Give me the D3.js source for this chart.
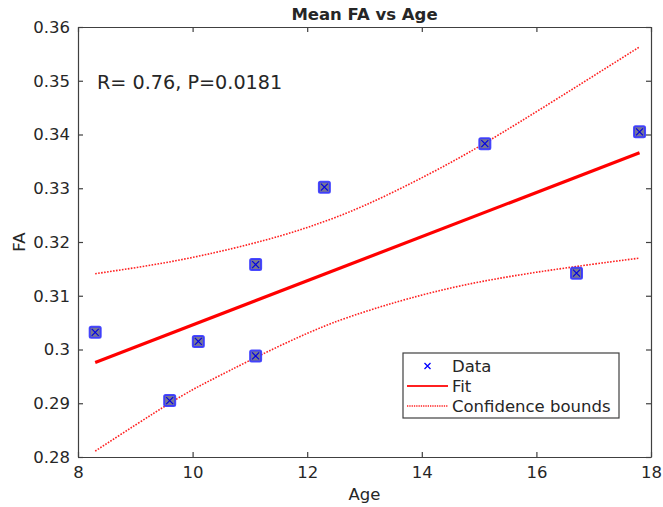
<!DOCTYPE html>
<html>
<head>
<meta charset="utf-8">
<script src="https://cdn.jsdelivr.net/npm/d3@7"></script>
<style>
  body { margin: 0; background: #fff; }
  text { font-family: "DejaVu Sans", sans-serif; fill: #262626; }
</style>
</head>
<body>
<div id="chart"></div>
<script>
// data
const ageValues = [8.3, 9.6, 10.1, 11.1, 11.1, 12.3, 15.1, 16.7, 17.8];
const faValues = [0.3032, 0.2905, 0.3015, 0.2988, 0.3158, 0.3302, 0.3383, 0.3142, 0.3405];

const fitAge = [8.3, 17.8];
const fitFa = [0.2976, 0.3366];

const upperAge = [8.3, 9.7, 11.0, 12.0, 13.0, 14.1, 15.1, 16.4, 17.8];
const upperFa = [0.3141, 0.3165, 0.3196, 0.3227, 0.3268, 0.3325, 0.3384, 0.3469, 0.3563];
const lowerAge = [8.3, 9.6, 10.3, 11.1, 12.0, 13.0, 14.7, 16.6, 17.8];
const lowerFa = [0.2811, 0.2900, 0.2942, 0.2985, 0.3030, 0.3070, 0.3119, 0.3153, 0.3170];

const xTicks = [8, 10, 12, 14, 16, 18];
const yTicks = [0.28, 0.29, 0.30, 0.31, 0.32, 0.33, 0.34, 0.35, 0.36];
const legendLabels = ["Data", "Fit", "Confidence bounds"];

const width = 663, height = 507;
const margin = {top: 27, right: 12, bottom: 50, left: 78};
const w = width - margin.left - margin.right;
const h = height - margin.top - margin.bottom;
const axisColor = "#404040";

const svg = d3.select("#chart").append("svg")
    .attr("width", width)
    .attr("height", height);
const g = svg.append("g")
    .attr("transform", `translate(${margin.left},${margin.top})`);

const x = d3.scaleLinear().domain([8, 18]).range([0, w]);
const y = d3.scaleLinear().domain([0.28, 0.36]).range([h, 0]);

// fit and confidence bounds
const line = d3.line().x(d => x(d[0])).y(d => y(d[1]));
const smooth = d3.line().x(d => x(d[0])).y(d => y(d[1])).curve(d3.curveNatural);

g.append("path")
    .attr("d", smooth(d3.zip(upperAge, upperFa)))
    .attr("fill", "none").attr("stroke", "#ff2020")
    .attr("stroke-width", 1.6).attr("stroke-dasharray", "1.6,1.4");
g.append("path")
    .attr("d", smooth(d3.zip(lowerAge, lowerFa)))
    .attr("fill", "none").attr("stroke", "#ff2020")
    .attr("stroke-width", 1.6).attr("stroke-dasharray", "1.6,1.4");
g.append("path")
    .attr("d", line(d3.zip(fitAge, fitFa)))
    .attr("fill", "none").attr("stroke", "#ff0000")
    .attr("stroke-width", 3.2);

// data points: gray square with blue edge plus blue cross
const pts = g.selectAll(".pt")
    .data(d3.zip(ageValues, faValues))
    .enter().append("g")
    .attr("class", "pt")
    .attr("transform", d => `translate(${x(d[0])},${y(d[1])})`);
pts.append("rect")
    .attr("x", -5.5).attr("y", -5.5)
    .attr("width", 11).attr("height", 11)
    .attr("rx", 1.5)
    .attr("fill", "#777795")
    .attr("stroke", "#3535ff").attr("stroke-opacity", 0.9)
    .attr("stroke-width", 2);
pts.append("path")
    .attr("d", "M-3.5,-3.5L3.5,3.5M-3.5,3.5L3.5,-3.5")
    .attr("stroke", "#0000e6").attr("stroke-width", 1.2);

// box and axes
const tickFmt = d3.format("~g");
const xAxis = g.append("g")
    .attr("transform", `translate(0,${h})`)
    .call(d3.axisBottom(x).tickValues(xTicks).tickSizeInner(-5).tickSizeOuter(0).tickPadding(9).tickFormat(tickFmt));
const xAxisTop = g.append("g")
    .call(d3.axisTop(x).tickValues(xTicks).tickSizeInner(-5).tickSizeOuter(0).tickFormat(""));
const yAxis = g.append("g")
    .call(d3.axisLeft(y).tickValues(yTicks).tickSizeInner(-5).tickSizeOuter(0).tickPadding(8).tickFormat(tickFmt));
const yAxisRight = g.append("g")
    .attr("transform", `translate(${w},0)`)
    .call(d3.axisRight(y).tickValues(yTicks).tickSizeInner(-5).tickSizeOuter(0).tickFormat(""));

[xAxis, xAxisTop, yAxis, yAxisRight].forEach(a => {
    a.selectAll("path, line").attr("stroke", axisColor).attr("stroke-width", 1.2);
    a.selectAll("text").attr("font-size", 16.5).attr("fill", "#262626")
        .attr("font-family", "DejaVu Sans, sans-serif");
});

// labels
svg.append("text")
    .attr("x", margin.left + w / 2).attr("y", 20)
    .attr("text-anchor", "middle")
    .attr("font-size", 16.5).attr("font-weight", "bold")
    .attr("fill", "#000")
    .text("Mean FA vs Age");
svg.append("text")
    .attr("x", margin.left + w / 2).attr("y", 500)
    .attr("text-anchor", "middle")
    .attr("font-size", 16.5)
    .text("Age");
svg.append("text")
    .attr("transform", `translate(25,${margin.top + h / 2}) rotate(-90)`)
    .attr("text-anchor", "middle")
    .attr("font-size", 16.5)
    .text("FA");
svg.append("text")
    .attr("x", 97).attr("y", 89)
    .attr("font-size", 19.2)
    .attr("fill", "#111")
    .text("R= 0.76, P=0.0181");

// legend
const leg = svg.append("g").attr("transform", "translate(403,353)");
leg.append("rect")
    .attr("width", 216).attr("height", 65)
    .attr("fill", "#fff").attr("stroke", axisColor).attr("stroke-width", 1.2);
const rowY = [13, 33, 53];
leg.selectAll(".lt")
    .data(legendLabels)
    .enter().append("text")
    .attr("x", 49).attr("y", (d, i) => rowY[i] + 6)
    .attr("font-size", 16.5)
    .text(d => d);
leg.append("path")
    .attr("d", `M${24.5 - 3},${rowY[0] - 3}L${24.5 + 3},${rowY[0] + 3}M${24.5 - 3},${rowY[0] + 3}L${24.5 + 3},${rowY[0] - 3}`)
    .attr("stroke", "#0000ff").attr("stroke-width", 1.3);
leg.append("line")
    .attr("x1", 4).attr("x2", 45).attr("y1", rowY[1]).attr("y2", rowY[1])
    .attr("stroke", "#ff2020").attr("stroke-width", 2);
leg.append("line")
    .attr("x1", 4).attr("x2", 45).attr("y1", rowY[2]).attr("y2", rowY[2])
    .attr("stroke", "#ff2020").attr("stroke-width", 1.3).attr("stroke-dasharray", "1.3,1");
</script>
</body>
</html>
